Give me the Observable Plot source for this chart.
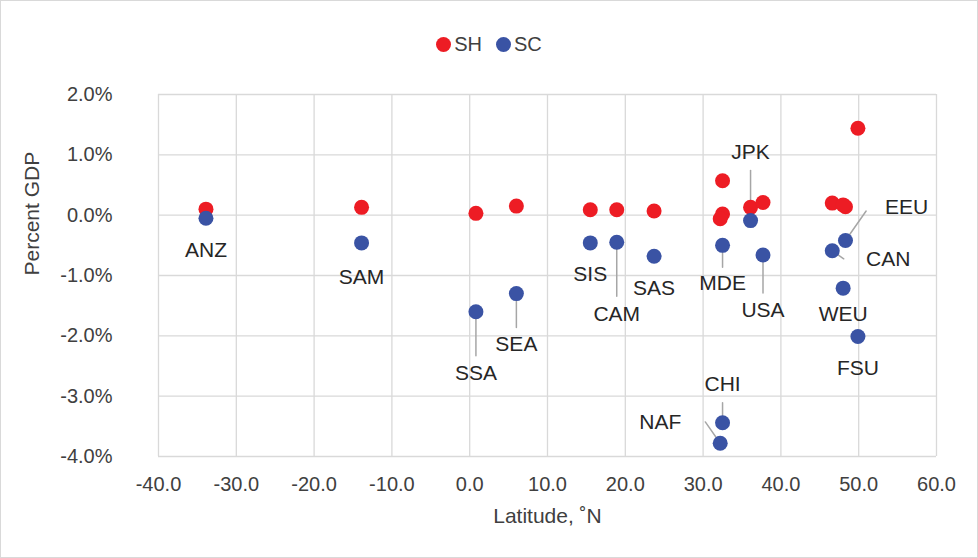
<!DOCTYPE html>
<html><head><meta charset="utf-8">
<script src="https://cdn.jsdelivr.net/npm/d3@7"></script>
<script src="https://cdn.jsdelivr.net/npm/@observablehq/plot@0.6"></script>
<style>
body{margin:0;background:#fff;font-family:Arial,"Liberation Sans",sans-serif;}
#wrap{position:relative;width:976px;height:556px;border:1px solid #d9d9d9;}
#legend{height:69px;display:flex;justify-content:center;align-items:flex-end;gap:14px;font-size:20px;color:#404040;}
#legend span{display:flex;align-items:center;gap:3px;padding-bottom:14px;}
#legend i{display:inline-block;width:15px;height:15px;border-radius:50%;}
</style></head>
<body><div id="wrap"><div id="legend"></div><div id="plot"></div></div>
<script>
const regions = ["ANZ","SAM","SSA","SEA","SIS","CAM","SAS","MDE","CHI","NAF","JPK","USA","CAN","EEU","WEU","FSU"];
const latitude = [-33.9,-13.9,0.8,6.0,15.5,18.9,23.7,32.5,32.5,32.2,36.1,37.7,46.6,48.3,48.0,49.9];
const shValues = [0.10,0.13,0.03,0.15,0.09,0.09,0.07,0.02,0.57,-0.06,0.13,0.21,0.20,0.14,0.17,1.44];
const scValues = [-0.05,-0.46,-1.60,-1.30,-0.46,-0.45,-0.68,-0.50,-3.44,-3.78,-0.09,-0.66,-0.59,-0.42,-1.21,-2.01];
// label offsets (px) and optional leader line length / angle
const labelDx = [0,0,0,0,0,0,0,0,0,-60,0,0,56,61,0,0];
const labelDy = [32,34,62,51,31,72,32,38,-38,-21,-68,55,9,-33,26,32];
const leaderLen = [0,0,44,34,0,54,0,22,20,26,50,38,14,36,0,0];
const leaderAngle = [0,0,180,180,0,180,0,180,0,-35,0,180,125,35,0,0];

const RED = "#ED1C24", BLUE = "#3A53A4";
document.getElementById("legend").innerHTML =
  `<span><i style="background:${RED}"></i>SH</span><span><i style="background:${BLUE}"></i>SC</span>`;

const rows = regions.map((r, i) => ({region: r, lat: latitude[i], sh: shValues[i] / 100, sc: scValues[i] / 100,
  dx: labelDx[i], dy: labelDy[i], len: leaderLen[i], ang: leaderAngle[i]}));
const leaders = rows.filter(d => d.len > 0);
const line = {draw(ctx, l) { ctx.moveTo(0, 0); ctx.lineTo(0, -l); }};
const xTicks = d3.range(-40, 61, 10);
const yTicks = d3.range(-4, 2.1, 1).map(v => v / 100);

const chart = Plot.plot({
  width: 976, height: 487,
  marginTop: 24, marginBottom: 101, marginLeft: 157, marginRight: 41,
  style: {fontFamily: "Arial, 'Liberation Sans', sans-serif", color: "#404040"},
  x: {domain: [-40, 60], axis: null},
  y: {domain: [-0.04, 0.02], axis: null},
  length: {type: "identity"},
  marks: [
    Plot.gridX(xTicks, {stroke: "#d9d9d9", strokeOpacity: 1, strokeWidth: 1.3}),
    Plot.gridY(yTicks, {stroke: "#d9d9d9", strokeOpacity: 1, strokeWidth: 1.3}),
    Plot.axisX(xTicks, {tickSize: 0, tickPadding: 20, tickFormat: d => d.toFixed(1), label: null, fontSize: 20}),
    Plot.axisY(yTicks, {tickSize: 0, tickPadding: 46, tickFormat: d => (d * 100).toFixed(1) + "%", label: null, fontSize: 20}),
    Plot.vector(leaders, {x: "lat", y: "sc", length: "len", rotate: "ang", anchor: "start", shape: line, stroke: "#a6a6a6", strokeWidth: 1.5}),
    Plot.dot(rows, {x: "lat", y: "sh", r: 7.5, fill: RED}),
    Plot.dot(rows, {x: "lat", y: "sc", r: 7.5, fill: BLUE}),
    Plot.text(rows, {x: "lat", y: "sc", text: "region", fill: "#262626", fontSize: 21}),
    Plot.text(["Latitude, ˚N"], {frameAnchor: "bottom", dy: 66, fill: "#404040", fontSize: 21}),
    Plot.text(["Percent GDP"], {frameAnchor: "left", dx: -126, rotate: -90, fill: "#404040", fontSize: 21})
  ]
});
// apply per-label pixel offsets
const labelGroup = [...chart.querySelectorAll("g[aria-label=text]")][0];
labelGroup.querySelectorAll("text").forEach((t, i) => {
  t.setAttribute("transform", (t.getAttribute("transform") || "") + ` translate(${rows[i].dx},${rows[i].dy})`);
});
document.getElementById("plot").append(chart);
</script></body></html>
